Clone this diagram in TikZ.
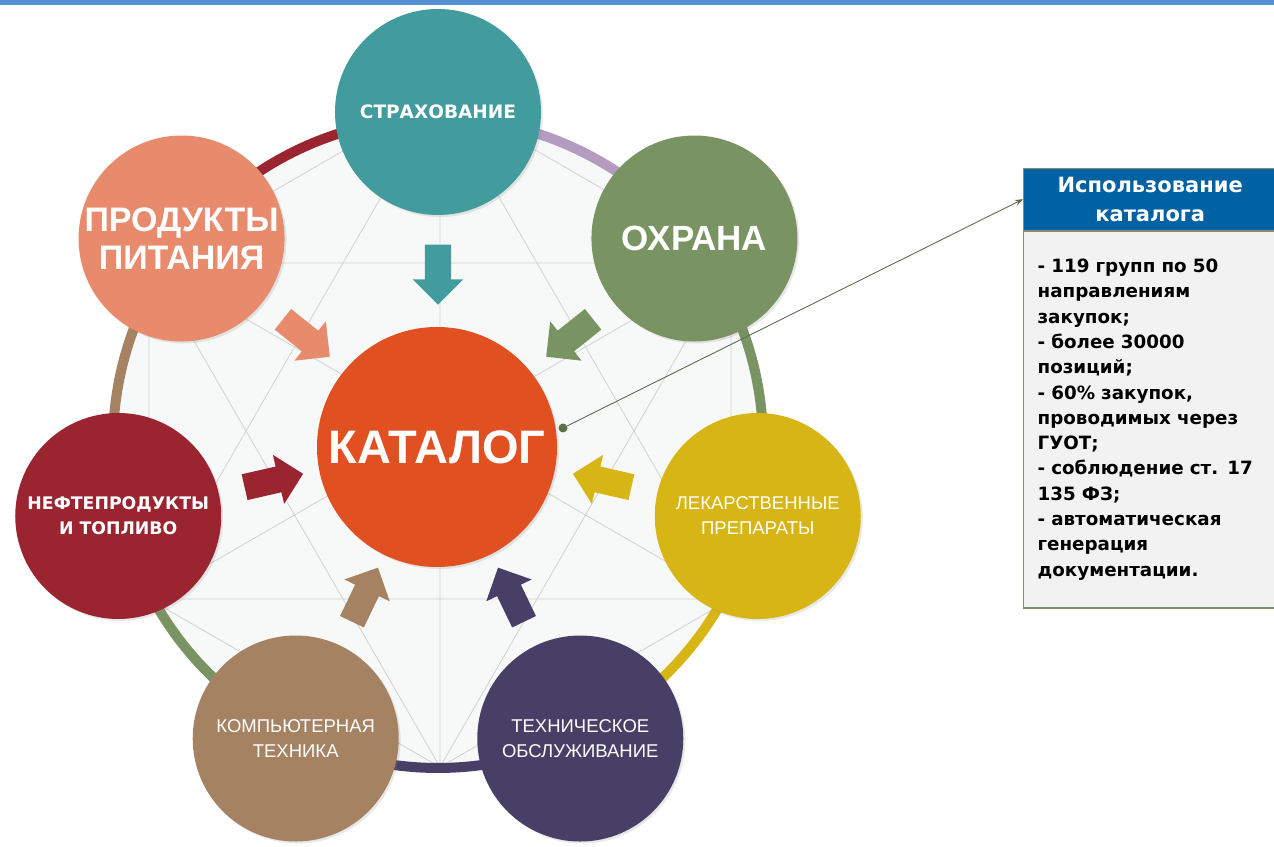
\documentclass[tikz,border=0pt]{standalone}
\usepackage{fontspec}
\setmainfont{Liberation Sans}
\newfontfamily\wide{DejaVu Sans}
\usetikzlibrary{shapes.arrows,arrows.meta,shadows}
\definecolor{cstrah}{HTML}{429B9C}
\definecolor{cohr}{HTML}{7A9363}
\definecolor{clek}{HTML}{D7B514}
\definecolor{ctech}{HTML}{483F66}
\definecolor{ccomp}{HTML}{A58262}
\definecolor{cneft}{HTML}{9A2531}
\definecolor{cprod}{HTML}{E88B6D}
\definecolor{ccat}{HTML}{E05020}
\definecolor{clav}{HTML}{B49CC0}
\definecolor{cbar}{HTML}{5590D4}
\definecolor{chead}{HTML}{0062A3}
\definecolor{cbox}{HTML}{F2F2F2}
\definecolor{cedge}{HTML}{7F8F6F}
\definecolor{cline}{HTML}{5A7048}
\definecolor{cgrid}{HTML}{D2D2D2}
\definecolor{cdisk}{HTML}{F7F8F8}
\tikzset{
  sat/.style={circle, minimum size=206, inner sep=0, text=white, align=center,
    drop shadow={opacity=0.18, shadow xshift=2, shadow yshift=-2}},
  blk/.style={single arrow, minimum height=60, inner xsep=0, inner ysep=13,
    single arrow head extend=12},
  ring/.style={line width=10}
}
\begin{document}
\begin{tikzpicture}[x=1pt,y=1pt]
\useasboundingbox (0,0) rectangle (1274,846);
\def\R{328}
\def\r{175}
\fill[cbar] (0,841) rectangle (1274,846);
\coordinate (o) at (438,403);
% background disk and grid
\fill[cdisk] (o) circle (325);
\begin{scope}
\clip (o) circle (325);
\coordinate (h) at (440,415);
\coordinate (v1) at ([shift={(90:336)}]h);
\coordinate (v2) at ([shift={(150:336)}]h);
\coordinate (v3) at ([shift={(210:336)}]h);
\coordinate (v4) at ([shift={(270:336)}]h);
\coordinate (v5) at ([shift={(330:336)}]h);
\coordinate (v6) at ([shift={(30:336)}]h);
\draw[cgrid, line width=0.8] (v1)--(v2)--(v3)--(v4)--(v5)--(v6)--cycle;
\draw[cgrid, line width=0.8] (v1)--(v3)--(v5)--cycle;
\draw[cgrid, line width=0.8] (v2)--(v4)--(v6)--cycle;
\draw[cgrid, line width=0.8] (v1)--(v4) (v2)--(v5) (v3)--(v6);
\end{scope}
% ring
\draw[ring, clav] ([shift={(90:325)}]o) arc (90:38.57:325);
\draw[ring, cohr] ([shift={(38.57:325)}]o) arc (38.57:-12.86:325);
\draw[ring, clek] ([shift={(-12.86:325)}]o) arc (-12.86:-64.29:325);
\draw[ring, ctech] ([shift={(-64.29:325)}]o) arc (-64.29:-115.71:325);
\draw[ring, cohr] ([shift={(-115.71:325)}]o) arc (-115.71:-167.14:325);
\draw[ring, ccomp] ([shift={(-167.14:325)}]o) arc (-167.14:-218.57:325);
\draw[ring, cneft] ([shift={(-218.57:325)}]o) arc (-218.57:-270:325);
% arrows
\node[blk, fill=cstrah, rotate=270, name=a1] at ([shift={(90:\r)}]o) {};
\node[blk, fill=cohr, rotate=218.57, name=a2] at ([shift={(38.57:\r)}]o) {};
\node[blk, fill=clek, rotate=167.14, name=a3] at ([shift={(-12.86:\r)}]o) {};
\node[blk, fill=ctech, rotate=115.71, name=a4] at ([shift={(-64.29:\r)}]o) {};
\node[blk, fill=ccomp, rotate=64.29, name=a5] at ([shift={(-115.71:\r)}]o) {};
\node[blk, fill=cneft, rotate=12.86, name=a6] at ([shift={(-167.14:\r)}]o) {};
\node[blk, fill=cprod, rotate=-38.57, name=a7] at ([shift={(141.43:\r)}]o) {};
% circles
\node[sat, fill=cstrah, name=strah, yshift=3,
  font=\wide\bfseries\fontsize{18.5}{22}\selectfont] at ([shift={(90:\R)}]o)
  {СТРАХОВАНИЕ};
\node[sat, fill=cohr, name=ohr, font=\bfseries\fontsize{35}{40}\selectfont]
  at ([shift={(38.57:\R)}]o) {ОХРАНА};
\node[sat, fill=clek, name=lek, font=\fontsize{18.5}{25}\selectfont]
  at ([shift={(-12.86:\R)}]o) {ЛЕКАРСТВЕННЫЕ\\ПРЕПАРАТЫ};
\node[sat, fill=ctech, name=tech, font=\fontsize{18.5}{25}\selectfont]
  at ([shift={(-64.29:\R)}]o) {ТЕХНИЧЕСКОЕ\\ОБСЛУЖИВАНИЕ};
\node[sat, fill=ccomp, name=comp, font=\fontsize{18.5}{25}\selectfont]
  at ([shift={(-115.71:\R)}]o) {КОМПЬЮТЕРНАЯ\\ТЕХНИКА};
\node[sat, fill=cneft, name=neft, font=\wide\bfseries\fontsize{17.3}{25}\selectfont]
  at ([shift={(-167.14:\R)}]o) {НЕФТЕПРОДУКТЫ\\И ТОПЛИВО};
\node[sat, fill=cprod, name=prod, font=\bfseries\fontsize{34}{38}\selectfont]
  at ([shift={(141.43:\R)}]o) {ПРОДУКТЫ\\ПИТАНИЯ};
\node[sat, fill=ccat, minimum size=240, name=cat,
  font=\bfseries\fontsize{47}{52}\selectfont] at (437,399) {КАТАЛОГ};
% info box
\node[name=head, fill=chead, draw=cedge, minimum width=254, minimum height=62,
  anchor=north west, align=center, text=white,
  font=\wide\bfseries\fontsize{21}{29}\selectfont] at (1023,678)
  {Использование\\каталога};
\node[name=body, fill=cbox, draw=cedge, line width=1.2, anchor=north west,
  minimum width=254, minimum height=377, text width=226, inner xsep=14,
  align=left, font=\wide\bfseries\fontsize{18.3}{25.3}\selectfont]
  at (head.south west)
  {- 119 групп по 50\\направлениям\\закупок;\\- более 30000\\позиций;\\- 60\% закупок,\\проводимых через\\ГУОТ;\\- соблюдение ст. 17\\135 ФЗ;\\- автоматическая\\генерация\\документации.};
\node[circle, fill=cline, inner sep=0, minimum size=9, name=dot] at (563,418) {};
\draw[cline, line width=0.9, -{Stealth[length=8,width=6]}] (dot) -- (head.west);
\end{tikzpicture}
\end{document}
